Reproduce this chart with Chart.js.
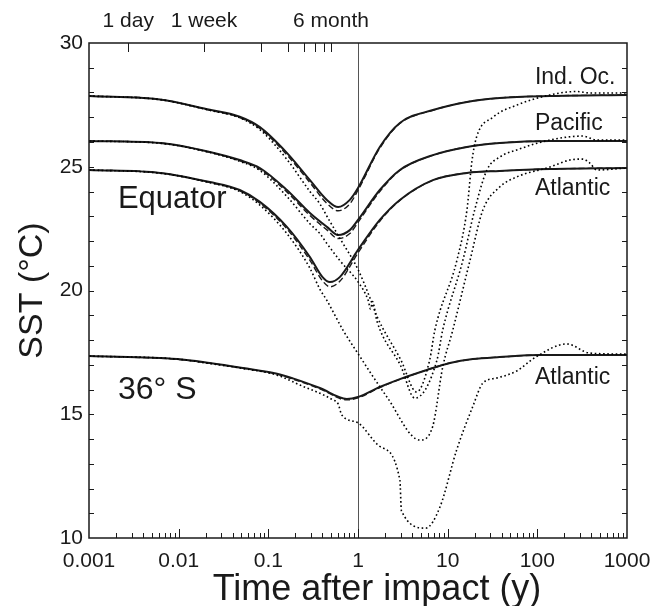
<!DOCTYPE html>
<html>
<head>
<meta charset="utf-8">
<script src="https://cdn.jsdelivr.net/npm/chart.js@4.4.1/dist/chart.umd.min.js"></script>
<style>
  html, body { margin: 0; padding: 0; background: #fff; }
</style>
</head>
<body>
<canvas id="chart" width="652" height="606"></canvas>
<script>
// ---- axis ticks ----
const xTickVals = [0.001, 0.01, 0.1, 1, 10, 100, 1000];
const xTickLabels = ["0.001", "0.01", "0.1", "1", "10", "100", "1000"];
const yTickVals = [10, 15, 20, 25, 30];
// top axis: 1 day, 1 week, 1..6 months (in years)
const topTickVals = [1 / 365, 7 / 365, 1 / 12, 2 / 12, 3 / 12, 4 / 12, 5 / 12, 6 / 12];
const topLabels = [["1 day", 1 / 365], ["1 week", 7 / 365], ["6 month", 6 / 12]];

// ---- equator, model curves (solid / dashed) ----
const eqTime = [0.001, 0.0062, 0.0223, 0.048, 0.0805, 0.161, 0.291, 0.45, 0.6, 0.81, 1.0, 1.75, 2.93, 6.84, 16.4, 38, 138, 1000];
const indSolid = [27.86, 27.72, 27.30, 27.02, 26.60, 25.56, 24.46, 23.66, 23.37, 23.66, 24.14, 25.80, 26.77, 27.29, 27.62, 27.78, 27.86, 27.90];
const indDashed = [27.86, 27.72, 27.28, 26.99, 26.55, 25.48, 24.36, 23.52, 23.22, 23.50, 24.05, 25.75, 26.75, 27.28, 27.62, 27.78, 27.86, 27.90];
const pacSolid = [26.04, 25.96, 25.60, 25.27, 24.95, 24.06, 23.13, 22.57, 22.24, 22.44, 22.85, 24.06, 24.87, 25.47, 25.80, 25.96, 26.04, 26.04];
const pacDashed = [26.04, 25.96, 25.58, 25.24, 24.90, 23.98, 23.03, 22.45, 22.10, 22.30, 22.75, 24.00, 24.85, 25.46, 25.80, 25.96, 26.04, 26.04];

const atlTime = [0.001, 0.0062, 0.0223, 0.048, 0.0805, 0.161, 0.291, 0.4, 0.486, 0.63, 1.0, 1.75, 2.93, 6.84, 16.4, 38, 138, 1000];
const atlSolid = [24.87, 24.75, 24.38, 24.06, 23.58, 22.57, 21.35, 20.55, 20.34, 20.55, 21.64, 22.85, 23.66, 24.46, 24.75, 24.83, 24.91, 24.95];
const atlDashed = [24.87, 24.75, 24.36, 24.03, 23.53, 22.49, 21.22, 20.40, 20.15, 20.38, 21.52, 22.80, 23.64, 24.45, 24.75, 24.83, 24.91, 24.95];

// ---- 36S Atlantic ----
const s36Time = [0.001, 0.0096, 0.0223, 0.052, 0.125, 0.188, 0.376, 0.75, 1.0, 1.75, 2.93, 5.86, 10.6, 19.1, 38, 107, 1000];
const s36Solid = [17.35, 17.23, 17.07, 16.87, 16.64, 16.45, 16.06, 15.62, 15.70, 16.10, 16.42, 16.79, 17.07, 17.23, 17.31, 17.39, 17.39];
const s36Dashed = [17.35, 17.22, 17.06, 16.86, 16.62, 16.42, 16.03, 15.58, 15.66, 16.08, 16.41, 16.79, 17.07, 17.23, 17.31, 17.39, 17.39];

// ---- dotted curves ----
const indDotTime = [0.001, 0.0062, 0.0223, 0.048, 0.0805, 0.161, 0.291, 0.376, 0.45, 0.63, 1.0, 1.36, 1.63, 3.0, 4.5, 6.3, 7.2, 12.7, 16.4, 18.6, 21, 31.9, 59, 138, 275, 385, 1000];
const indDot = [27.86, 27.71, 27.28, 26.98, 26.50, 25.30, 24.00, 23.50, 23.00, 22.10, 20.85, 19.70, 18.95, 17.20, 15.90, 17.19, 18.40, 21.23, 23.25, 25.20, 26.20, 27.00, 27.49, 27.90, 28.04, 27.98, 27.98];

const pacDotTime = [0.001, 0.0062, 0.0223, 0.048, 0.0805, 0.161, 0.291, 0.376, 0.45, 0.63, 1.0, 1.3, 1.38, 1.45, 1.63, 3.0, 4.3, 7.6, 8.8, 14.8, 20, 27.4, 38, 59, 138, 321, 460, 1000];
const pacDot = [26.04, 25.95, 25.58, 25.22, 24.85, 23.80, 22.70, 22.30, 21.90, 21.20, 20.35, 19.60, 19.25, 19.55, 18.75, 16.95, 15.65, 17.19, 18.40, 21.23, 23.25, 24.87, 25.39, 25.68, 26.08, 26.24, 26.08, 26.08];

const atlDotTime = [0.001, 0.0062, 0.0223, 0.048, 0.0805, 0.161, 0.291, 0.376, 0.45, 0.68, 1.0, 2.1, 4.9, 6.8, 8.8, 11.4, 17.7, 24.7, 38, 59, 138, 230, 321, 385, 460, 1000];
const atlDot = [24.87, 24.74, 24.36, 24.00, 23.45, 22.30, 20.90, 20.05, 19.60, 18.40, 17.45, 15.70, 13.96, 14.50, 16.90, 18.40, 21.20, 23.25, 24.18, 24.59, 24.99, 25.27, 25.31, 25.15, 24.87, 24.95];

const s36DotTime = [0.001, 0.0096, 0.0223, 0.052, 0.125, 0.225, 0.525, 0.6, 0.66, 1.0, 1.75, 2.93, 3.05, 5.7, 8.2, 12.6, 19, 24.7, 35, 59, 95, 213, 385, 1000];
const s36Dot = [17.35, 17.23, 17.05, 16.85, 16.58, 16.18, 15.58, 15.42, 14.97, 14.65, 13.70, 12.34, 11.10, 10.40, 11.25, 13.56, 15.30, 16.26, 16.46, 16.75, 17.30, 17.84, 17.47, 17.43];

// ---- text labels (placed in data coordinates) ----
const regionLabels = [
  ["Equator", 0.0021, 23.66, 31],
  ["36\u00b0 S", 0.0021, 15.98, 32],
  ["Ind. Oc.", 94, 28.6, 23],
  ["Pacific", 94, 26.73, 23],
  ["Atlantic", 94, 24.1, 23],
  ["Atlantic", 94, 16.46, 23]
];

const FONT = "'Liberation Sans', Arial, sans-serif";
const INK = "#1a1a1a";

function pts(t, v) {
  return t.map((x, i) => ({ x: x, y: v[i] }));
}
function solid(t, v) {
  return { data: pts(t, v), borderColor: INK, borderWidth: 2, pointRadius: 0, showLine: true, cubicInterpolationMode: "monotone" };
}
function dashed(t, v) {
  return { data: pts(t, v), borderColor: INK, borderWidth: 1.4, borderDash: [6, 3], pointRadius: 0, showLine: true, cubicInterpolationMode: "monotone" };
}
function dotted(t, v) {
  return { data: pts(t, v), borderColor: "#000", borderWidth: 1.6, borderDash: [1.6, 2.6], pointRadius: 0, showLine: true, cubicInterpolationMode: "monotone" };
}

/*----- frame, inward ticks, vertical line and labels -----*/
const framePlugin = {
  id: "frame",
  beforeDatasetsDraw(chart) {
    const { ctx, chartArea: a, scales: { x } } = chart;
    const px = x.getPixelForValue(1);
    ctx.save();
    ctx.strokeStyle = "#555";
    ctx.lineWidth = 1;
    ctx.beginPath();
    ctx.moveTo(Math.round(px) + 0.5, a.top);
    ctx.lineTo(Math.round(px) + 0.5, a.bottom);
    ctx.stroke();
    ctx.restore();
  },
  afterDatasetsDraw(chart) {
    const { ctx, chartArea: a, scales: { x, y } } = chart;
    ctx.save();
    ctx.strokeStyle = INK;
    ctx.lineWidth = 1.5;
    ctx.strokeRect(a.left, a.top, a.right - a.left, a.bottom - a.top);

    ctx.lineWidth = 1;
    ctx.beginPath();
    // left and right: every degree
    for (let t = 11; t < 30; t++) {
      const py = Math.round(y.getPixelForValue(t)) + 0.5;
      ctx.moveTo(a.left, py); ctx.lineTo(a.left + 5, py);
      ctx.moveTo(a.right, py); ctx.lineTo(a.right - 5, py);
    }
    // bottom: decades and 2..9
    for (let d = -3; d < 3; d++) {
      for (let m = 1; m < 10; m++) {
        const v = m * Math.pow(10, d);
        const p = Math.round(x.getPixelForValue(v)) + 0.5;
        if (m === 1 && d === -3) continue;
        const len = m === 1 ? 9 : 5;
        ctx.moveTo(p, a.bottom); ctx.lineTo(p, a.bottom - len);
      }
    }
    // top: day / week / months
    topTickVals.forEach(v => {
      const p = Math.round(x.getPixelForValue(v)) + 0.5;
      ctx.moveTo(p, a.top); ctx.lineTo(p, a.top + 9);
    });
    ctx.stroke();
    ctx.restore();
  },
  afterDraw(chart) {
    const { ctx, scales: { x, y }, chartArea: a } = chart;
    ctx.save();
    ctx.fillStyle = INK;
    ctx.textBaseline = "middle";
    ctx.textAlign = "center";
    ctx.font = "21px " + FONT;
    topLabels.forEach(([txt, v]) => {
      ctx.fillText(txt, x.getPixelForValue(v), a.top - 22);
    });
    ctx.textAlign = "left";
    regionLabels.forEach(([txt, xv, yv, size]) => {
      ctx.font = size + "px " + FONT;
      ctx.fillText(txt, x.getPixelForValue(xv), y.getPixelForValue(yv));
    });

    // axis titles
    ctx.textAlign = "center";
    ctx.font = "36px " + FONT;
    ctx.fillText("Time after impact (y)", (a.left + a.right) / 2 + 19, a.bottom + 52);
    ctx.save();
    ctx.translate(a.left - 56, (a.top + a.bottom) / 2);
    ctx.rotate(-Math.PI / 2);
    ctx.font = "34px " + FONT;
    ctx.fillText("SST (\u00b0C)", 0, 0);
    ctx.restore();
    ctx.restore();
  }
};

const ctx = document.querySelector("#chart").getContext("2d");

new Chart(ctx, {
  type: "scatter",
  data: {
    datasets: [
      dotted(indDotTime, indDot),
      dotted(pacDotTime, pacDot),
      dotted(atlDotTime, atlDot),
      dotted(s36DotTime, s36Dot),
      dashed(eqTime, indDashed),
      dashed(eqTime, pacDashed),
      dashed(atlTime, atlDashed),
      dashed(s36Time, s36Dashed),
      solid(eqTime, indSolid),
      solid(eqTime, pacSolid),
      solid(atlTime, atlSolid),
      solid(s36Time, s36Solid)
    ]
  },
  options: {
    responsive: false,
    animation: false,
    layout: { padding: { left: 0, top: 43, right: 25, bottom: 0 } },
    plugins: { legend: { display: false }, tooltip: { enabled: false } },
    scales: {
      x: {
        type: "logarithmic",
        min: 0.001,
        max: 1000,
        grid: { display: false, drawTicks: false },
        border: { display: false },
        afterBuildTicks: s => { s.ticks = xTickVals.map(v => ({ value: v })); },
        afterFit: s => { s.height = 68; s.paddingLeft = 0; s.paddingRight = 0; },
        ticks: {
          color: INK,
          font: { family: FONT, size: 21 },
          padding: 11,
          maxRotation: 0,
          autoSkip: false,
          callback: (v, i) => xTickLabels[i]
        }
      },
      y: {
        min: 10,
        max: 30,
        grid: { display: false, drawTicks: false },
        border: { display: false },
        afterBuildTicks: s => { s.ticks = yTickVals.map(v => ({ value: v })); },
        afterFit: s => { s.width = 89; s.paddingTop = 0; s.paddingBottom = 0; },
        ticks: {
          color: INK,
          font: { family: FONT, size: 21 },
          padding: 6
        }
      }
    }
  },
  plugins: [framePlugin]
});
</script>
</body>
</html>
